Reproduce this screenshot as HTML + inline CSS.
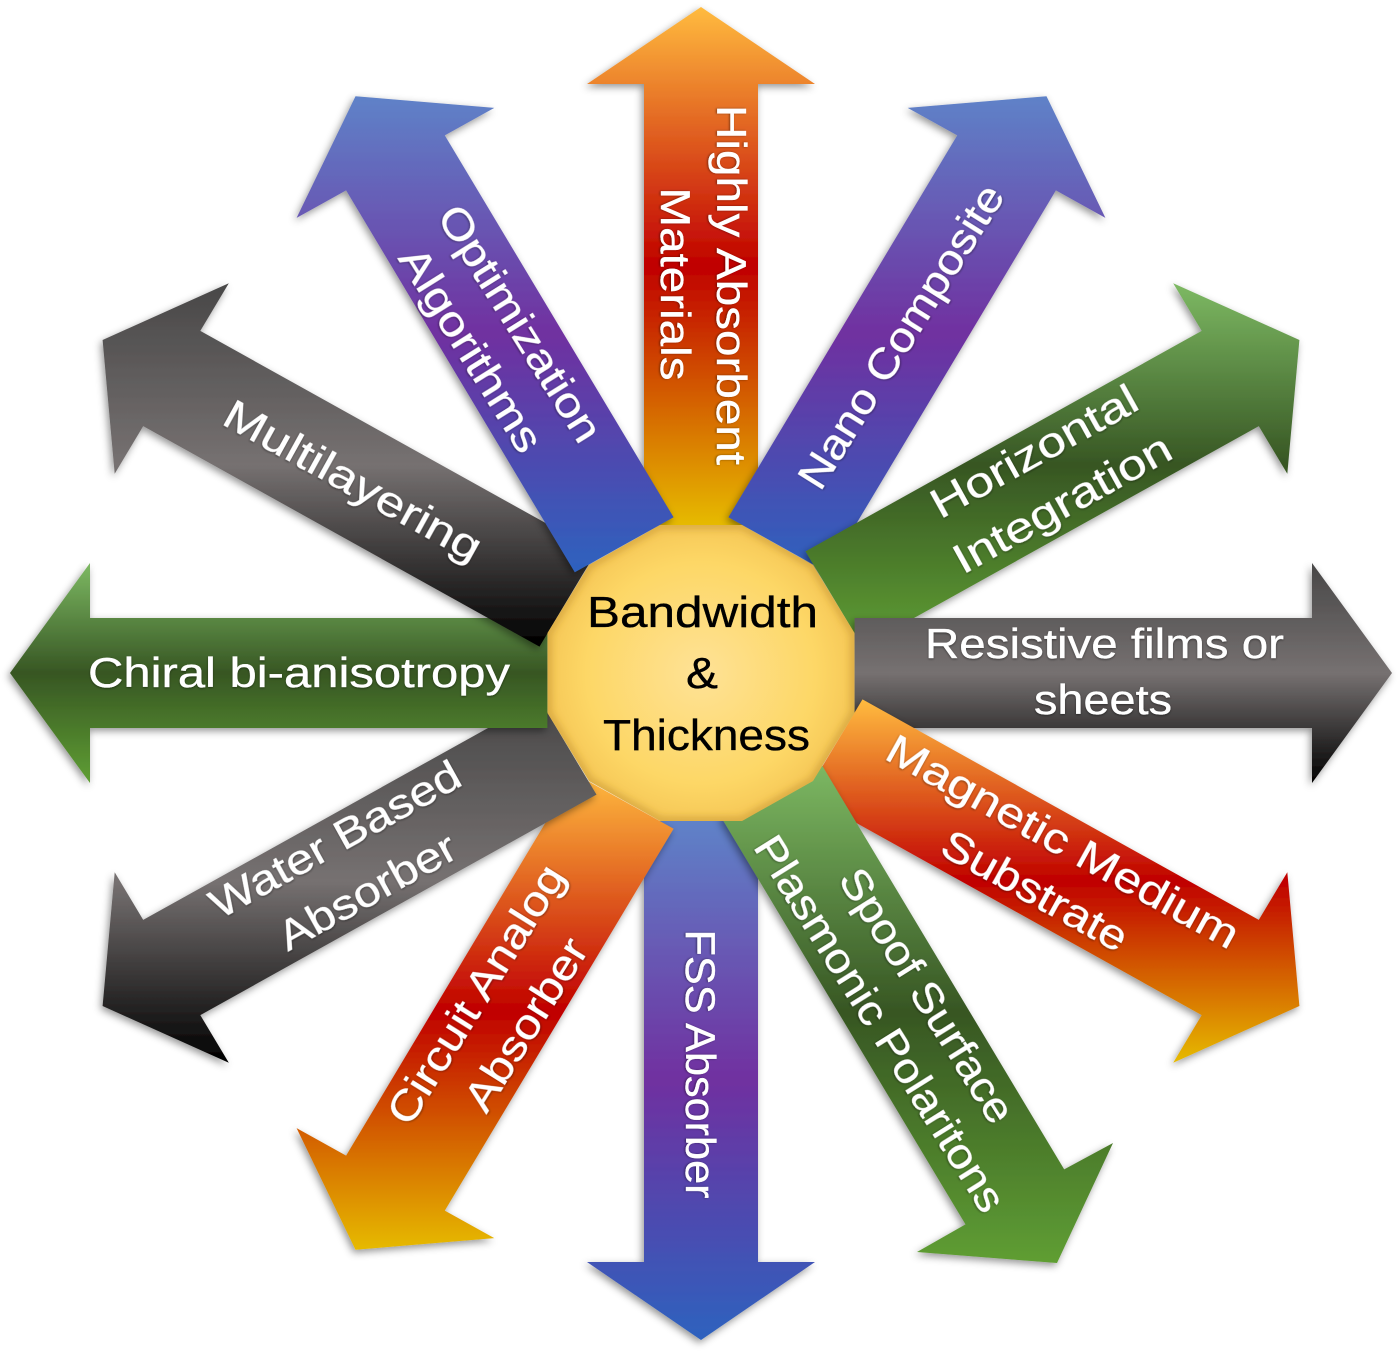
<!DOCTYPE html>
<html><head><meta charset="utf-8"><style>
html,body{margin:0;padding:0;background:#fff;width:1400px;height:1353px;overflow:hidden}
svg{display:block}
text{font-family:"Liberation Sans",sans-serif;font-size:42px;fill:#fff;stroke:#fff;stroke-width:.35;text-anchor:middle;filter:url(#ts)}
text.c{font-size:44px;fill:#000;stroke:#000;filter:none}
</style></head><body>
<svg width="1400" height="1353" viewBox="0 0 1400 1353" xmlns="http://www.w3.org/2000/svg">
<defs>
<linearGradient id="o" x1="0" y1="0" x2="0" y2="1"><stop offset="0" stop-color="#FFBB3F"/><stop offset=".5" stop-color="#C00000"/><stop offset="1" stop-color="#E6BA00"/></linearGradient>
<linearGradient id="b" x1="0" y1="0" x2="0" y2="1"><stop offset="0" stop-color="#5F82C8"/><stop offset=".5" stop-color="#7030A0"/><stop offset="1" stop-color="#2D62BE"/></linearGradient>
<linearGradient id="g" x1="0" y1="0" x2="0" y2="1"><stop offset="0" stop-color="#7DB963"/><stop offset=".5" stop-color="#375623"/><stop offset="1" stop-color="#5F9E33"/></linearGradient>
<linearGradient id="k" x1="0" y1="0" x2="0" y2="1"><stop offset="0" stop-color="#484747"/><stop offset=".5" stop-color="#767171"/><stop offset="1" stop-color="#000"/></linearGradient>
<radialGradient id="c" cx=".5" cy=".5" r=".52"><stop offset="0" stop-color="#FEE296"/><stop offset=".72" stop-color="#FDD766"/><stop offset="1" stop-color="#F5C655"/></radialGradient>
<filter id="s" x="-20%" y="-20%" width="140%" height="140%"><feDropShadow dx="-2" dy="3" stdDeviation="4" flood-color="#000" flood-opacity=".42"/></filter>
<filter id="ts" x="-10%" y="-10%" width="120%" height="120%"><feDropShadow dx="0" dy="1" stdDeviation="1" flood-color="#000" flood-opacity=".45"/></filter>
<filter id="bl" x="-10%" y="-10%" width="120%" height="120%"><feGaussianBlur stdDeviation="4"/></filter>
<clipPath id="dc"><polygon points="660,525 742,525 813,565 854.5,633 854.5,713 813,781 742,821 660,821 589,781 547.5,713 547.5,633 589,565"/></clipPath>
</defs>

<g filter="url(#s)"><polygon fill="url(#o)" points="701,7 815,84 758,84 758,525 644,525 644,84 587,84"/></g>
<g filter="url(#s)"><polygon fill="url(#b)" points="1046.5,96.2 1105.4,217.9 1055.9,190.4 827.2,572.3 728.4,517.3 957.2,135.4 907.7,107.9"/></g>
<g filter="url(#s)"><polygon fill="url(#g)" points="1299.4,340 1287.3,473.8 1258.8,426.1 862.5,646.6 805.5,551.4 1201.7,330.9 1173.2,283.2"/></g>
<g filter="url(#s)"><polygon fill="url(#k)" points="1392,673 1312,783 1312,728 854.6,728 854.6,618 1312,618 1312,563"/></g>
<g filter="url(#s)"><polygon fill="url(#o)" points="1299.4,1006 1173.2,1062.8 1201.7,1015.1 805.5,794.6 862.5,699.4 1258.8,919.9 1287.3,872.2"/></g>
<g filter="url(#s)"><polygon fill="url(#b)" points="701,1340 587,1262 644,1262 644,821 758,821 758,1262 815,1262"/></g>
<g filter="url(#s)"><polygon fill="url(#g)" points="1057,1263 917,1252 965.5,1224.4 721,817 820,762 1064.2,1169.4 1113,1143"/></g>
<g filter="url(#s)"><polygon fill="url(#o)" points="355.5,1249.8 296.6,1128.1 346.1,1155.6 574.8,773.7 673.6,828.7 444.8,1210.6 494.3,1238.1"/></g>
<g filter="url(#s)"><polygon fill="url(#k)" points="102.6,1006 114.7,872.2 143.2,919.9 539.5,699.4 596.5,794.6 200.3,1015.1 228.8,1062.8"/></g>
<g filter="url(#s)"><polygon fill="url(#g)" points="10,673 90,563 90,618 547.4,618 547.4,728 90,728 90,783"/></g>
<g filter="url(#s)"><polygon fill="url(#k)" points="102.6,340 228.8,283.2 200.3,330.9 596.5,551.4 539.5,646.6 143.2,426.1 114.7,473.8"/></g>
<g filter="url(#s)"><polygon fill="url(#b)" points="355.5,96.2 494.3,107.9 444.8,135.4 673.6,517.3 574.8,572.3 346.1,190.4 296.6,217.9"/></g>

<polygon fill="url(#c)" points="660,525 742,525 813,565 854.5,633 854.5,713 813,781 742,821 660,821 589,781 547.5,713 547.5,633 589,565"/>
<g clip-path="url(#dc)"><polygon filter="url(#bl)" fill="none" stroke="#B8862A" stroke-opacity=".55" stroke-width="7" points="660,525 742,525 813,565 854.5,633 854.5,713 813,781 742,821 660,821 589,781 547.5,713 547.5,633 589,565"/></g>

<text class="c" x="702.5" y="627" textLength="231" lengthAdjust="spacingAndGlyphs">Bandwidth</text>
<text class="c" x="702" y="688" textLength="32" lengthAdjust="spacingAndGlyphs">&amp;</text>
<text class="c" x="706.5" y="750" textLength="207" lengthAdjust="spacingAndGlyphs">Thickness</text>

<text x="1104.5" y="658" textLength="359" lengthAdjust="spacingAndGlyphs">Resistive films or</text>
<text x="1103" y="714" textLength="138" lengthAdjust="spacingAndGlyphs">sheets</text>
<text x="299" y="687" textLength="422" lengthAdjust="spacingAndGlyphs">Chiral bi-anisotropy</text>

<text transform="translate(717,285) rotate(90)" textLength="360" lengthAdjust="spacingAndGlyphs">Highly Absorbent</text>
<text transform="translate(661,284) rotate(90)" textLength="193" lengthAdjust="spacingAndGlyphs">Materials</text>
<text transform="translate(686,1064) rotate(90)" textLength="269" lengthAdjust="spacingAndGlyphs">FSS Absorber</text>

<text transform="translate(913,344) rotate(-58)" textLength="350" lengthAdjust="spacingAndGlyphs">Nano Composite</text>
<text transform="translate(1041,464) rotate(-29)" textLength="230" lengthAdjust="spacingAndGlyphs">Horizontal</text>
<text transform="translate(1069,516) rotate(-29)" textLength="243" lengthAdjust="spacingAndGlyphs">Integration</text>
<text transform="translate(1056,854) rotate(29)" textLength="396" lengthAdjust="spacingAndGlyphs">Magnetic Medium</text>
<text transform="translate(1028,903) rotate(29)" textLength="206" lengthAdjust="spacingAndGlyphs">Substrate</text>
<text transform="translate(915,1003) rotate(58)" textLength="292" lengthAdjust="spacingAndGlyphs">Spoof Surface</text>
<text transform="translate(868,1031) rotate(58)" textLength="435" lengthAdjust="spacingAndGlyphs">Plasmonic Polaritons</text>
<text transform="translate(488,1002) rotate(-58)" textLength="297" lengthAdjust="spacingAndGlyphs">Circuit Analog</text>
<text transform="translate(538,1032) rotate(-58)" textLength="195" lengthAdjust="spacingAndGlyphs">Absorber</text>
<text transform="translate(342,852) rotate(-29)" textLength="280" lengthAdjust="spacingAndGlyphs">Water Based</text>
<text transform="translate(374,904) rotate(-29)" textLength="197" lengthAdjust="spacingAndGlyphs">Absorber</text>
<text transform="translate(346,493) rotate(29)" textLength="288" lengthAdjust="spacingAndGlyphs">Multilayering</text>
<text transform="translate(508,331) rotate(58)" textLength="271" lengthAdjust="spacingAndGlyphs">Optimization</text>
<text transform="translate(459,357) rotate(58)" textLength="233" lengthAdjust="spacingAndGlyphs">Algorithms</text>
</svg>
</body></html>
